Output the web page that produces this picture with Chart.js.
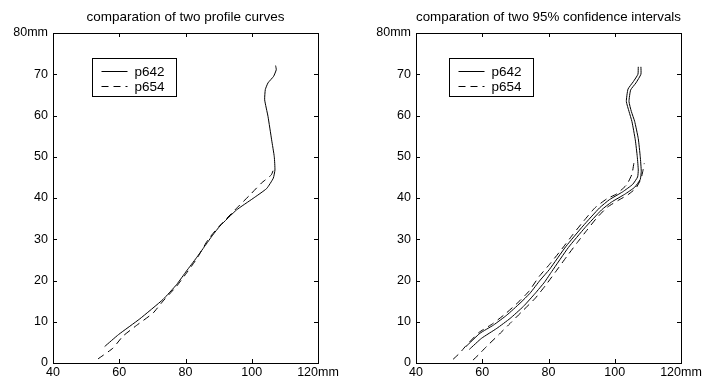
<!DOCTYPE html>
<html>
<head>
<meta charset="utf-8">
<script src="https://cdn.jsdelivr.net/npm/chart.js@4/dist/chart.umd.min.js"></script>
<style>
  body { margin: 0; background: #fff; }
  .panel { position: absolute; top: 0; }
</style>
</head>
<body>
<div class="panel" style="left:0"><canvas id="left" width="352" height="384"></canvas></div>
<div class="panel" style="left:352px"><canvas id="right" width="351" height="384"></canvas></div>
<script>
// tick labels
const xTicks = [40, 60, 80, 100, 120];
const xTickLabels = ["40", "60", "80", "100", "120mm"];
const yTicks = [0, 10, 20, 30, 40, 50, 60, 70, 80];
const yTickLabels = ["0", "10", "20", "30", "40", "50", "60", "70", "80mm"];
const legendNames = ["p642", "p654"];

// left panel: profile curves [x mm, y mm]
const leftP642 = [[55.6,4.0],[59.8,6.9],[66.2,10.7],[73.2,15.4],[77.3,19.0],[80.3,22.3],[83.3,25.5],[85.8,28.3],[88.2,31.0],[90.4,33.2],[95.4,37.1],[100.4,39.9],[104.5,42.3],[106.5,44.8],[107.0,46.8],[106.8,50.0],[106.0,54.1],[104.9,59.8],[103.9,63.8],[104.1,66.3],[104.9,67.9],[106.6,69.5],[107.4,71.1],[107.2,72.1]];
const leftP654 = [[53.6,1.0],[58.1,3.6],[61.1,6.5],[65.2,9.1],[70.2,12.1],[73.2,15.0],[77.3,18.6],[80.3,21.8],[83.5,25.4],[86.8,29.9],[90.0,33.0],[95.4,37.5],[99.4,40.7],[102.9,43.6],[105.9,45.6],[106.6,47.0]];

// right panel: 95% confidence bounds
const p642Lower = [[55.1,4.0],[59.3,7.2],[63.4,9.2],[67.4,11.6],[71.4,14.5],[74.4,16.9],[77.5,20.1],[80.3,22.7],[85.3,28.3],[90.4,33.2],[95.4,37.6],[98.4,39.6],[102.4,41.5],[105.4,43.3],[106.9,45.1],[107.1,46.8],[106.8,50.0],[106.2,54.1],[105.2,58.5],[104.3,61.0],[103.5,63.4],[104.0,66.4],[105.6,68.2],[107.0,70.0],[107.1,71.8]];
const p642Upper = [[56.1,3.3],[59.8,6.0],[64.4,8.4],[68.4,10.8],[72.4,13.7],[76.0,16.9],[78.8,19.6],[81.0,22.2],[86.0,28.0],[91.0,32.8],[96.0,37.1],[99.0,39.0],[103.0,40.9],[106.0,42.6],[107.7,44.5],[108.0,46.5],[107.7,50.0],[107.1,54.4],[106.0,58.6],[105.0,61.0],[104.3,63.4],[104.8,66.2],[106.4,67.9],[107.9,70.0],[107.9,71.8]];
const p654Lower = [[51.2,0.9],[53.2,2.4],[55.0,4.1],[59.0,7.4],[63.1,9.5],[67.1,12.0],[71.1,14.9],[74.1,17.4],[77.2,21.0],[80.3,23.9],[84.0,27.6],[87.4,31.2],[90.6,34.4],[94.0,37.6],[97.6,39.8],[100.6,41.0],[103.6,43.2],[105.2,45.8],[105.8,48.6]];
const p654Upper = [[57.2,0.7],[58.9,2.0],[61.3,4.0],[64.9,6.8],[68.9,10.0],[71.9,12.4],[76.0,15.7],[79.0,18.7],[82.5,22.5],[85.5,25.8],[88.5,29.0],[91.6,32.2],[94.6,35.2],[97.8,37.8],[101.0,39.4],[104.0,40.8],[106.4,42.4],[107.9,44.6],[108.5,46.6],[108.9,48.4]];

const FONT = "'Liberation Sans', Arial, sans-serif";
const DASH = [7, 5];

function line(points, dashed){
    return {
        data: points.map(p => ({x: p[0], y: p[1]})),
        showLine: true,
        borderColor: "#000",
        borderWidth: 1,
        borderDash: dashed ? DASH : [],
        pointRadius: 0,
        tension: 0.15,
        fill: false
    };
}

// frame, inward ticks and boxed legend, MATLAB style
const matlabFrame = {
    id: "matlabFrame",
    afterDatasetsDraw(chart, args, opts){
        const ctx = chart.ctx;
        const a = chart.chartArea;
        const xs = chart.scales.x, ys = chart.scales.y;
        const tl = 4;
        ctx.save();
        ctx.strokeStyle = "#000";
        ctx.lineWidth = 1;
        ctx.beginPath();
        xTicks.forEach(v => {
            const px = Math.round(xs.getPixelForValue(v)) + 0.5;
            ctx.moveTo(px, a.bottom); ctx.lineTo(px, a.bottom - tl);
            ctx.moveTo(px, a.top); ctx.lineTo(px, a.top + tl);
        });
        yTicks.forEach(v => {
            const py = Math.round(ys.getPixelForValue(v)) + 0.5;
            ctx.moveTo(a.left, py); ctx.lineTo(a.left + tl, py);
            ctx.moveTo(a.right, py); ctx.lineTo(a.right - tl, py);
        });
        ctx.stroke();
        ctx.strokeRect(Math.round(a.left) + 0.5, Math.round(a.top) + 0.5,
            Math.round(a.right - a.left), Math.round(a.bottom - a.top));

        // legend box
        const bx = Math.round(a.left + opts.boxLeft) + 0.5;
        const by = Math.round(a.top + 25) + 0.5;
        ctx.fillStyle = "#fff";
        ctx.fillRect(bx, by, 84, 38);
        ctx.strokeRect(bx, by, 84, 38);
        ctx.fillStyle = "#000";
        ctx.font = "13.5px " + FONT;
        ctx.textBaseline = "middle";
        legendNames.forEach((name, i) => {
            const ry = Math.round(by + 12 + i * 15.5) + 0.5;
            ctx.setLineDash(i === 0 ? [] : DASH);
            ctx.beginPath();
            ctx.moveTo(bx + 9, ry); ctx.lineTo(bx + 35, ry);
            ctx.stroke();
            ctx.setLineDash([]);
            ctx.fillText(name, bx + 42, ry + 1);
        });
        ctx.restore();
    }
};

function makeChart(id, title, datasets, yWidth, padRight, boxLeft){
    return new Chart(document.getElementById(id), {
        type: "scatter",
        data: { datasets: datasets },
        options: {
            responsive: false,
            animation: false,
            devicePixelRatio: 1,
            layout: { padding: { left: 0, right: padRight, top: 0, bottom: 0 } },
            plugins: {
                legend: { display: false },
                tooltip: { enabled: false },
                title: {
                    display: true,
                    text: title,
                    fullSize: false,
                    color: "#000",
                    font: { family: FONT, size: 13.5, weight: "normal", lineHeight: 1.2 },
                    padding: { top: 9, bottom: 7.8 }
                },
                matlabFrame: { boxLeft: boxLeft }
            },
            scales: {
                x: {
                    type: "linear",
                    min: 40, max: 120,
                    afterBuildTicks: s => { s.ticks = xTicks.map(v => ({value: v})); },
                    afterFit: s => { s.height = 21; s.paddingLeft = 0; s.paddingRight = 0; },
                    grid: { display: false, drawTicks: false },
                    border: { display: false },
                    ticks: {
                        color: "#000",
                        font: { family: FONT, size: 12.5 },
                        padding: 2,
                        maxRotation: 0,
                        callback: (v, i) => xTickLabels[i]
                    }
                },
                y: {
                    type: "linear",
                    min: 0, max: 80,
                    afterBuildTicks: s => { s.ticks = yTicks.map(v => ({value: v})); },
                    afterFit: s => { s.width = yWidth; s.paddingTop = 0; s.paddingBottom = 0; },
                    grid: { display: false, drawTicks: false },
                    border: { display: false },
                    ticks: {
                        color: "#000",
                        font: { family: FONT, size: 12.5 },
                        padding: 5,
                        callback: (v, i) => yTickLabels[i]
                    }
                }
            }
        },
        plugins: [matlabFrame]
    });
}

makeChart("left", "comparation of two profile curves",
    [line(leftP642, false), line(leftP654, true)], 53, 34, 39);

makeChart("right", "comparation of two 95% confidence intervals",
    [line(p642Lower, false), line(p642Upper, false), line(p654Lower, true), line(p654Upper, true)], 64, 22, 33);
</script>
</body>
</html>
